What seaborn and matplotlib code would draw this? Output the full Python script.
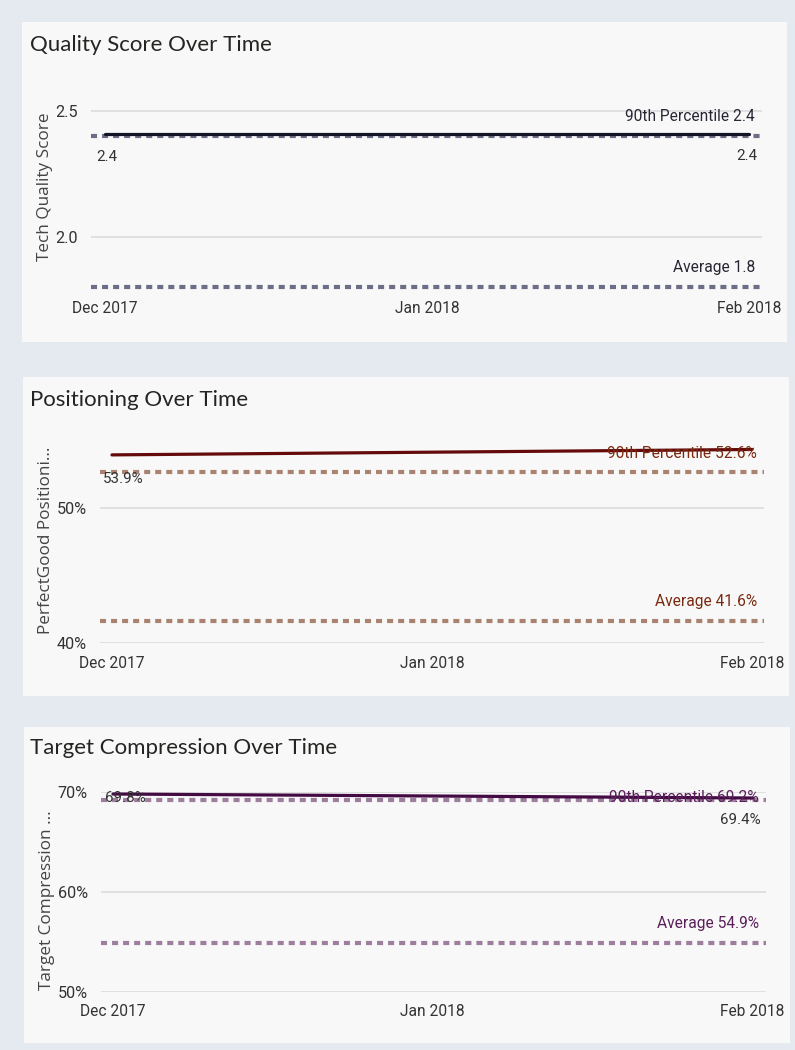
import pandas as pd
import matplotlib.pyplot as plt
from matplotlib.patches import Rectangle
from matplotlib.ticker import FuncFormatter
import seaborn as sns

# data
months = ["2017-12-01", "2018-01-01", "2018-02-01"]
tick_labels = ["Dec 2017", "Jan 2018", "Feb 2018"]

quality = [2.41, 2.41, 2.41]
quality_p90 = 2.40
quality_avg = 1.80

positioning = [53.9, 54.1, 54.3]
positioning_p90 = 52.6
positioning_avg = 41.6

compression = [69.8, 69.6, 69.4]
compression_p90 = 69.2
compression_avg = 54.9

sns.set_theme(style="white")
plt.rcParams['font.family'] = ['Open Sans', 'DejaVu Sans']
NARROW = ['Liberation Sans Narrow', 'Roboto', 'DejaVu Sans']
FS = 11.2

W, H = 795, 1050
fig = plt.figure(figsize=(W / 100, H / 100), dpi=100)
fig.patch.set_facecolor('#e5eaf1')


def frac(x0, y0, x1, y1):
    return [x0 / W, 1 - y1 / H, (x1 - x0) / W, (y1 - y0) / H]


def panel(x0, y0, x1, y1):
    fig.patches.append(Rectangle((x0 / W, 1 - y1 / H), (x1 - x0) / W, (y1 - y0) / H,
                                 transform=fig.transFigure, facecolor='#f8f8f8',
                                 edgecolor='none', zorder=-5))


panel(22, 22, 787, 342)
panel(23, 377, 789, 696)
panel(24, 727, 790, 1043)

dates = pd.to_datetime(months)
lbl_color = '#333333'


def draw(box, values, p90, avg, ylim, yticks, yfmt, title, title_y, ylabel, ylabel_pos,
         line_c, dash_c, txt_c, pad_left, pad_right, xpad, fmt_val, start_lbl, end_lbl,
         p90_dy):
    ax = fig.add_axes(frac(*box))
    ax.set_zorder(2)
    ax.set_facecolor('none')
    df = pd.DataFrame({'month': dates, 'value': values})
    for v in (p90, avg):
        ax.axhline(v, color=dash_c, lw=3, linestyle=(0, (1.45, 1.2)), zorder=2)
    sns.lineplot(data=df, x='month', y='value', ax=ax, color=line_c, lw=2.3, zorder=3)
    ax.set_xlim(dates[0] - pd.Timedelta(days=pad_left), dates[-1] + pd.Timedelta(days=pad_right))
    ax.set_ylim(*ylim)
    ax.set_yticks(yticks)
    ax.yaxis.set_major_formatter(FuncFormatter(yfmt))
    ax.set_xticks(dates)
    ax.set_xticklabels(tick_labels)
    ax.grid(axis='y', color='#dcdcdc', lw=1.2)
    ax.grid(axis='x', visible=False)
    for s in ax.spines.values():
        s.set_visible(False)
    ax.tick_params(axis='y', length=0, pad=9.5, labelsize=FS + 0.5, labelcolor='#333333')
    ax.tick_params(axis='x', length=0, pad=xpad, labelsize=FS, labelcolor='#333333')
    for t in ax.get_xticklabels() + ax.get_yticklabels():
        t.set_family(NARROW)
    ax.set_xlabel('')
    ax.set_ylabel(ylabel, fontsize=12.3, color='#444444')
    ax.yaxis.set_label_coords(*ylabel_pos)

    fig.text(30 / W, 1 - title_y / H, title, fontsize=16, color='#252423',
             va='center', ha='left', family=['Lato', 'DejaVu Sans'])

    # reference line labels
    ax.annotate(f"90th Percentile {fmt_val(p90)}", xy=(1, p90), xycoords=('axes fraction', 'data'),
                xytext=(-5, p90_dy), textcoords='offset points', ha='right', va='center',
                fontsize=FS, color=txt_c, family=NARROW)
    ax.annotate(f"Average {fmt_val(avg)}", xy=(1, avg), xycoords=('axes fraction', 'data'),
                xytext=(-5, 14), textcoords='offset points', ha='right', va='center',
                fontsize=FS, color=txt_c, family=NARROW)

    # data labels
    if start_lbl is not None:
        ax.annotate(fmt_val(values[0]), xy=(dates[0], values[0]), xytext=start_lbl,
                    textcoords='offset points', ha='left', va='center',
                    fontsize=FS - 0.3, color=lbl_color, family=NARROW, annotation_clip=False)
    if end_lbl is not None:
        ax.annotate(fmt_val(values[-1]), xy=(dates[-1], values[-1]), xytext=end_lbl,
                    textcoords='offset points', ha='right', va='center',
                    fontsize=FS - 0.3, color=lbl_color, family=NARROW, annotation_clip=False)
    return ax


draw((91, 100, 762, 297), quality, quality_p90, quality_avg,
     (1.762, 2.544), [2.0, 2.5], lambda v, p: f"{v:.1f}",
     "Quality Score Over Time", 45, "Tech Quality Score", (-0.057, 0.56),
     '#141428', '#6c6d86', '#262634', 1.35, 1.25, 3,
     lambda v: f"{v:.1f}", (-6.5, -17), (6, -16), 14)

draw((100, 440, 764, 643), positioning, positioning_p90, positioning_avg,
     (40, 55), [40, 50], lambda v, p: f"{v:.0f}%",
     "Positioning Over Time", 400, "PerfectGood Positioni...", (-0.069, 0.507),
     '#640a0a', '#a98370', '#7a2a10', 1.16, 1.16, 9,
     lambda v: f"{v:.1f}%", (-6.5, -17.5), None, 14)

draw((101, 792, 766, 992), compression, compression_p90, compression_avg,
     (50, 70), [50, 60, 70], lambda v, p: f"{v:.0f}%",
     "Target Compression Over Time", 748, "Target Compression ...", (-0.069, 0.46),
     '#440a44', '#9d7e9d', '#5b1f5b', 1.16, 1.3, 9,
     lambda v: f"{v:.1f}%", (-6, -3), (6, -16), 2)

fig.savefig('out.png', dpi=100, facecolor=fig.get_facecolor())
